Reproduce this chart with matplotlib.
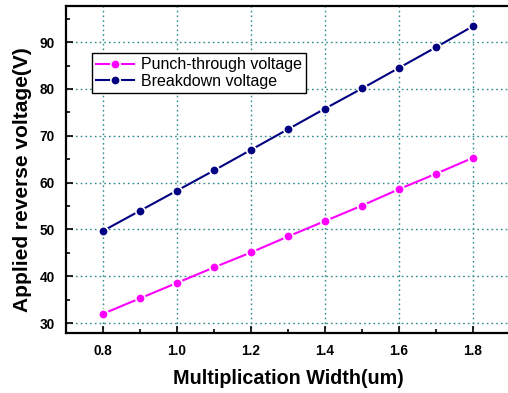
import matplotlib
matplotlib.use("Agg")
import matplotlib.pyplot as plt
from matplotlib.ticker import MultipleLocator, FormatStrFormatter

plt.rcParams['font.family'] = ['Liberation Sans', 'DejaVu Sans']

# data
width_um = [0.8, 0.9, 1.0, 1.1, 1.2, 1.3, 1.4, 1.5, 1.6, 1.7, 1.8]
punch_through = [32.0, 35.3, 38.6, 41.9, 45.1, 48.5, 51.8, 55.1, 58.6, 61.9, 65.3]
breakdown = [49.7, 54.0, 58.3, 62.6, 67.0, 71.4, 75.8, 80.1, 84.5, 88.9, 93.4]

fig = plt.figure(figsize=(5.08, 3.93), dpi=100)
ax = fig.add_axes([0.130, 0.1527, 0.874, 0.832])

ax.plot(width_um, punch_through, color="#ff00ff", lw=1.5, marker="o", ms=6.8,
        mfc="#ff00ff", mec="white", mew=1.2, label="Punch-through voltage", zorder=3)
ax.plot(width_um, breakdown, color="#000080", lw=1.5, marker="o", ms=6.8,
        mfc="#000080", mec="white", mew=1.2, label="Breakdown voltage", zorder=3)

ax.set_xlim(0.7, 1.9)
ax.set_ylim(27.9, 97.7)
ax.xaxis.set_major_locator(MultipleLocator(0.2))
ax.xaxis.set_minor_locator(MultipleLocator(0.1))
ax.yaxis.set_major_locator(MultipleLocator(10))
ax.yaxis.set_minor_locator(MultipleLocator(5))
ax.xaxis.set_major_formatter(FormatStrFormatter("%.1f"))
ax.tick_params(which="both", direction="in", top=False, right=False, width=1.2)
ax.tick_params(which="major", length=5, labelsize=9.8, pad=8)
ax.tick_params(which="minor", length=3)
for lab in ax.get_xticklabels() + ax.get_yticklabels():
    lab.set_fontweight("bold")

for sp in ax.spines.values():
    sp.set_linewidth(1.6)

ax.grid(True, which="major", color="#2e8b8b", linestyle=(0, (1.2, 2.2)), linewidth=1.0)
ax.set_axisbelow(True)

ax.set_xlabel("Multiplication Width(um)", fontsize=14.2, fontweight="bold", labelpad=8)
ax.set_ylabel("Applied reverse voltage(V)", fontsize=15, fontweight="bold")
ax.yaxis.set_label_coords(-0.077, 0.469)

leg = ax.legend(loc="upper left", bbox_to_anchor=(0.0586, 0.856), borderaxespad=0,
                fontsize=11.5, fancybox=False, framealpha=1, edgecolor="black",
                numpoints=1, handlelength=2.4, labelspacing=0.1, borderpad=0.25,
                handletextpad=0.4)
leg.get_frame().set_linewidth(1.0)

fig.savefig("out.png", dpi=100)
